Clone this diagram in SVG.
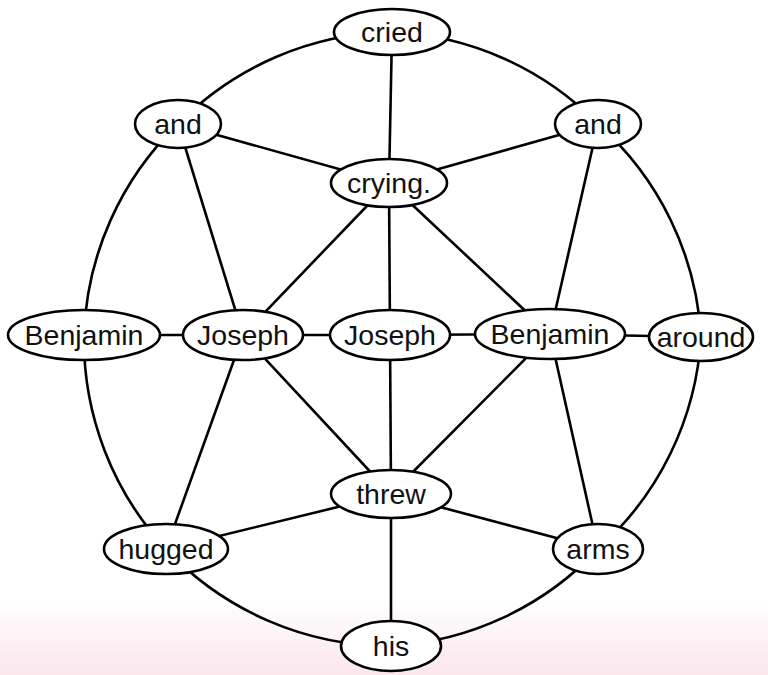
<svg xmlns="http://www.w3.org/2000/svg" width="768" height="675" viewBox="0 0 768 675">
<defs>
<linearGradient id="bg" x1="0" y1="0" x2="0" y2="1">
<stop offset="0" stop-color="#ffffff"/>
<stop offset="0.89" stop-color="#ffffff"/>
<stop offset="0.95" stop-color="#fdf1f4"/>
<stop offset="1" stop-color="#fbe6ec"/>
</linearGradient>
<style>
.e{fill:none;stroke:#000;stroke-width:2.6}
.n ellipse{fill:#fff;stroke:#000;stroke-width:2.6}
.n text{font-family:"Liberation Sans",Arial,sans-serif;font-size:28.5px;fill:#111;text-anchor:middle;dominant-baseline:central}
</style>
</defs>
<rect width="768" height="675" fill="url(#bg)"/>
<g id="edges">
<path class="e" d="M392 32 A308 308 0 0 1 598 124"/>
<path class="e" d="M598 124 A308 308 0 0 1 701 337"/>
<path class="e" d="M701 337 A308 308 0 0 1 598 549"/>
<path class="e" d="M598 549 A308 308 0 0 1 391 646"/>
<path class="e" d="M391 646 A308 308 0 0 1 166 549"/>
<path class="e" d="M166 549 A308 308 0 0 1 84 335"/>
<path class="e" d="M84 335 A308 308 0 0 1 178 124"/>
<path class="e" d="M178 124 A308 308 0 0 1 392 32"/>
<line class="e" x1="392" y1="32" x2="389" y2="183"/>
<line class="e" x1="178" y1="124" x2="389" y2="183"/>
<line class="e" x1="598" y1="124" x2="389" y2="183"/>
<line class="e" x1="389" y1="183" x2="243" y2="335"/>
<line class="e" x1="389" y1="183" x2="390" y2="335"/>
<line class="e" x1="389" y1="183" x2="550" y2="334"/>
<line class="e" x1="178" y1="124" x2="243" y2="335"/>
<line class="e" x1="598" y1="124" x2="550" y2="334"/>
<line class="e" x1="84" y1="335" x2="243" y2="335"/>
<line class="e" x1="243" y1="335" x2="390" y2="335"/>
<line class="e" x1="390" y1="335" x2="550" y2="334"/>
<line class="e" x1="550" y1="334" x2="701" y2="337"/>
<line class="e" x1="243" y1="335" x2="391" y2="494"/>
<line class="e" x1="390" y1="335" x2="391" y2="494"/>
<line class="e" x1="550" y1="334" x2="391" y2="494"/>
<line class="e" x1="243" y1="335" x2="166" y2="549"/>
<line class="e" x1="550" y1="334" x2="598" y2="549"/>
<line class="e" x1="391" y1="494" x2="166" y2="549"/>
<line class="e" x1="391" y1="494" x2="598" y2="549"/>
<line class="e" x1="391" y1="494" x2="391" y2="646"/>
</g>
<g id="cried" class="n"><ellipse cx="392" cy="32" rx="58" ry="23"/><text x="392" y="32">cried</text></g>
<g id="and1" class="n"><ellipse cx="178" cy="124" rx="43" ry="24"/><text x="178" y="124">and</text></g>
<g id="and2" class="n"><ellipse cx="598" cy="124" rx="43" ry="24"/><text x="598" y="124">and</text></g>
<g id="crying" class="n"><ellipse cx="389" cy="183" rx="58" ry="24"/><text x="389" y="183">crying.</text></g>
<g id="benjamin1" class="n"><ellipse cx="84" cy="335" rx="76" ry="25"/><text x="84" y="335">Benjamin</text></g>
<g id="joseph1" class="n"><ellipse cx="243" cy="335" rx="60" ry="25"/><text x="243" y="335">Joseph</text></g>
<g id="joseph2" class="n"><ellipse cx="390" cy="335" rx="60" ry="25"/><text x="390" y="335">Joseph</text></g>
<g id="benjamin2" class="n"><ellipse cx="550" cy="334" rx="75" ry="25"/><text x="550" y="334">Benjamin</text></g>
<g id="around" class="n"><ellipse cx="701" cy="337" rx="52" ry="24"/><text x="701" y="337">around</text></g>
<g id="threw" class="n"><ellipse cx="391" cy="494" rx="60" ry="24"/><text x="391" y="494">threw</text></g>
<g id="hugged" class="n"><ellipse cx="166" cy="549" rx="62" ry="25"/><text x="166" y="549">hugged</text></g>
<g id="arms" class="n"><ellipse cx="598" cy="549" rx="45" ry="25"/><text x="598" y="549">arms</text></g>
<g id="his" class="n"><ellipse cx="391" cy="646" rx="50" ry="25"/><text x="391" y="646">his</text></g>
</svg>
